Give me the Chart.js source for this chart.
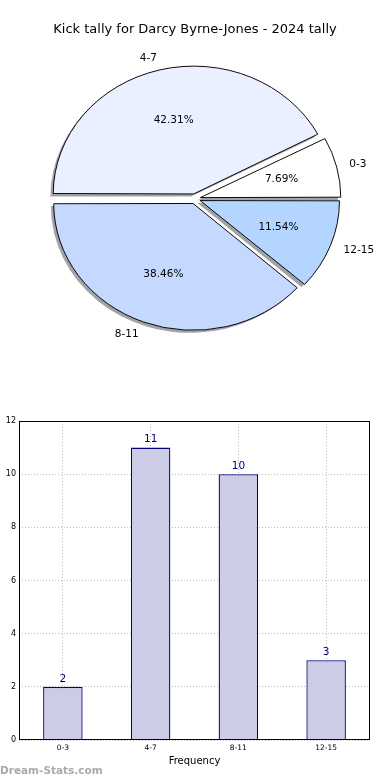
<!DOCTYPE html>
<html>
<head>
<meta charset="utf-8">
<script src="https://cdn.jsdelivr.net/npm/chart.js@4.4.1/dist/chart.umd.min.js"></script>
<style>
  html, body { margin: 0; padding: 0; background: #fff; }
  body { width: 390px; height: 780px; position: relative; overflow: hidden; font-family: 'DejaVu Sans', sans-serif; }
  #pieChart { position: absolute; left: 0; top: 0; }
  #barChart { position: absolute; left: 0; top: 390px; }
  #mark { position: absolute; left: 0; top: 764px; font: bold 10.5px 'DejaVu Sans', sans-serif; color: #aaaaaa; }
</style>
</head>
<body>
<canvas id="pieChart" width="390" height="390"></canvas>
<canvas id="barChart" width="390" height="390"></canvas>
<div id="mark">Dream-Stats.com</div>
<script>
// dados
const titleText = 'Kick tally for Darcy Byrne-Jones - 2024 tally';
const categories = ['0-3', '4-7', '8-11', '12-15'];
const tally = [2, 11, 10, 3];
const pieColours = ['#ffffff', '#eaf0ff', '#c5d8ff', '#b3d5ff'];
const yTicks = [0, 2, 4, 6, 8, 10, 12];
const xTitle = 'Frequency';
const yTitle = 'Number of Games';

const total = tally.reduce((a, b) => a + b, 0);
const ySquash = 0.91; // pizza achatada como no matplotlib

// a pizza do matplotlib corre no sentido anti-horário, então invertemos
const pieLabels = categories.slice().reverse();
const pieValues = tally.slice().reverse();
const pieFill = pieColours.slice().reverse();

const ellipsePlugin = {
    id: 'ellipse',
    beforeDatasetsDraw(chart) {
        const arcs = chart.getDatasetMeta(0).data;
        const a = arcs[0];
        const ctx = chart.ctx;
        ctx.save();
        ctx.translate(a.x, a.y);
        ctx.scale(1, ySquash);
        ctx.translate(-a.x, -a.y);
        // sombra
        ctx.fillStyle = 'rgba(70,72,77,0.5)';
        arcs.forEach(arc => {
            const mid = (arc.startAngle + arc.endAngle) / 2;
            const off = (arc.options.offset || 0) / 4;
            const r = arc.outerRadius + off * (1 - Math.sin(Math.min(Math.PI, arc.circumference)));
            const cx = arc.x + Math.cos(mid) * off - 2.8;
            const cy = arc.y + Math.sin(mid) * off + 2.8;
            ctx.beginPath();
            ctx.moveTo(cx, cy);
            ctx.arc(cx, cy, r, arc.startAngle, arc.endAngle);
            ctx.closePath();
            ctx.fill();
        });
    },
    afterDatasetsDraw(chart) {
        chart.ctx.restore();
    }
};

const pieLabelPlugin = {
    id: 'pieLabels',
    afterDatasetsDraw(chart) {
        const ctx = chart.ctx;
        const arcs = chart.getDatasetMeta(0).data;
        ctx.save();
        ctx.fillStyle = '#000';
        ctx.textBaseline = 'middle';
        arcs.forEach((arc, i) => {
            const mid = (arc.startAngle + arc.endAngle) / 2;
            const off = (arc.options.offset || 0) / 4;
            const r = arc.outerRadius + 2;
            const c = Math.cos(mid), s = Math.sin(mid);
            // percentual
            ctx.font = '10.5px "DejaVu Sans"';
            ctx.textAlign = 'center';
            const pct = (pieValues[i] / total * 100).toFixed(2) + '%';
            ctx.fillText(pct, arc.x + c * (0.6 * r + off), arc.y + s * (0.6 * r + off) * ySquash);
            // rótulo
            ctx.textAlign = c < 0 ? 'right' : 'left';
            ctx.fillText(pieLabels[i], arc.x + c * (1.1 * r + off), arc.y + s * (1.1 * r + off) * ySquash);
        });
        ctx.restore();
    }
};

new Chart(document.getElementById('pieChart'), {
    type: 'pie',
    data: {
        labels: pieLabels,
        datasets: [{
            data: pieValues,
            backgroundColor: pieFill,
            borderColor: '#000',
            borderWidth: 1,
            offset: 22
        }]
    },
    options: {
        responsive: false,
        animation: false,
        rotation: 90,
        radius: 137.5,
        layout: { padding: { top: 0, bottom: 40, left: 0, right: 0 } },
        plugins: {
            legend: { display: false },
            tooltip: { enabled: false },
            title: {
                display: true,
                text: titleText,
                color: '#000',
                font: { family: 'DejaVu Sans', size: 13, weight: 'normal' },
                padding: { top: 22, bottom: 10 }
            }
        }
    },
    plugins: [ellipsePlugin, pieLabelPlugin]
});

// barras
const barValuePlugin = {
    id: 'barValues',
    afterDatasetsDraw(chart) {
        const ctx = chart.ctx;
        ctx.save();
        ctx.fillStyle = '#000080';
        ctx.font = '10.5px "DejaVu Sans"';
        ctx.textAlign = 'center';
        ctx.textBaseline = 'middle';
        chart.getDatasetMeta(0).data.forEach((bar, i) => {
            ctx.fillText(String(tally[i]), bar.x, bar.y - 8);
        });
        ctx.restore();
    }
};

const frameAndTitlePlugin = {
    id: 'frame',
    afterDraw(chart) {
        const ctx = chart.ctx;
        const a = chart.chartArea;
        ctx.save();
        ctx.strokeStyle = '#000';
        ctx.lineWidth = 1;
        ctx.strokeRect(a.left + 0.5, a.top + 0.5, a.right - a.left - 1, a.bottom - a.top - 1);
        // título do eixo y (cortado na borda, como no original)
        ctx.translate(-2.5, (a.top + a.bottom) / 2);
        ctx.rotate(-Math.PI / 2);
        ctx.fillStyle = '#000';
        ctx.font = '10px "DejaVu Sans"';
        ctx.textAlign = 'center';
        ctx.textBaseline = 'middle';
        ctx.fillText(yTitle, 0, 0);
        ctx.restore();
    }
};

new Chart(document.getElementById('barChart'), {
    type: 'bar',
    data: {
        labels: categories,
        datasets: [{
            data: tally,
            backgroundColor: '#ccccE6',
            borderColor: '#000080',
            borderWidth: 1.3,
            categoryPercentage: 1,
            barPercentage: 0.45
        }]
    },
    options: {
        responsive: false,
        animation: false,
        layout: { padding: { top: 31, right: 20, left: 0, bottom: 0 } },
        plugins: { legend: { display: false }, tooltip: { enabled: false } },
        scales: {
            x: {
                z: 1,
                afterFit(s) { s.height = 40; },
                grid: { offset: false, color: '#bbbbbb', drawTicks: false },
                border: { display: false, dash: [1, 2] },
                ticks: { color: '#000', padding: 4, font: { family: 'DejaVu Sans', size: 7.5 } },
                title: {
                    display: true,
                    text: xTitle,
                    color: '#000',
                    font: { family: 'DejaVu Sans', size: 10 },
                    padding: { top: 0, bottom: 13 }
                }
            },
            y: {
                z: 1,
                min: yTicks[0],
                max: yTicks[yTicks.length - 1],
                afterFit(s) { s.width = 19; },
                afterBuildTicks(s) { s.ticks = yTicks.map(v => ({ value: v })); },
                grid: { color: '#bbbbbb', drawTicks: false },
                border: { display: false, dash: [1, 2] },
                ticks: { color: '#000', padding: 3, font: { family: 'DejaVu Sans', size: 8 } }
            }
        }
    },
    plugins: [barValuePlugin, frameAndTitlePlugin]
});
</script>
</body>
</html>
